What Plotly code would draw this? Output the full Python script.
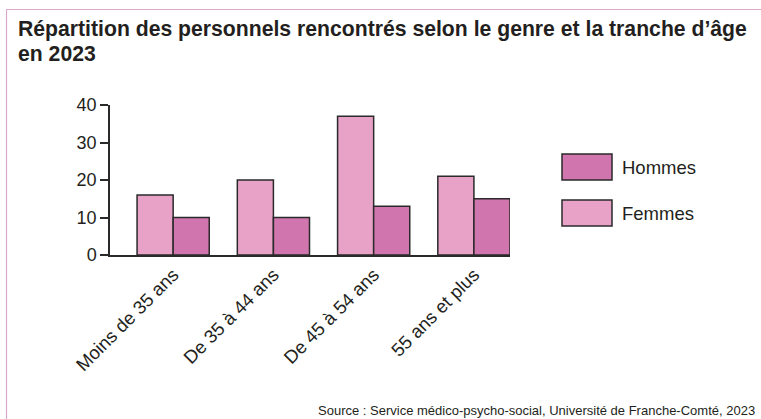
import plotly.graph_objects as go

# Age groups and headcounts by gender
categories = ["Moins de 35 ans", "De 35 à 44 ans", "De 45 à 54 ans", "55 ans et plus"]
femmes = [16, 20, 37, 21]
hommes = [10, 10, 13, 15]
y_ticks = [0, 10, 20, 30, 40]

W, H = 761, 419
L, R, T, B = 110, 251, 105, 164  # plot area: x 110..510, y 105..255
PW, PH = W - L - R, H - T - B

def px(x):
    return (x - L) / PW

def py(y):
    return (H - B - y) / PH

FEMMES_COLOR = "#E8A2C8"
HOMMES_COLOR = "#D075AE"
OUTLINE = "#2a2a2a"
TEXT = "#231f20"
FONT = "Liberation Sans, Arial, sans-serif"

series = [
    ("Femmes", femmes, FEMMES_COLOR),
    ("Hommes", hommes, HOMMES_COLOR),
]

fig = go.Figure()
for name, vals, color in series:
    fig.add_trace(go.Bar(
        x=categories, y=vals, name=name,
        marker=dict(color=color, line=dict(color=OUTLINE, width=1.5)),
        showlegend=False,
    ))

shapes = []
annotations = []

# Legend drawn as boxes with labels (Hommes above Femmes)
legend_items = [("Hommes", HOMMES_COLOR, 154), ("Femmes", FEMMES_COLOR, 200)]
for name, color, top in legend_items:
    shapes.append(dict(
        type="rect", xref="paper", yref="paper",
        x0=px(562), x1=px(612), y0=py(top + 26), y1=py(top),
        fillcolor=color, line=dict(color=OUTLINE, width=1.5),
    ))
    annotations.append(dict(
        text=name, xref="paper", yref="paper",
        x=px(620), y=py(top + 13), xanchor="left", yanchor="middle",
        showarrow=False, font=dict(family=FONT, size=18.5, color=TEXT),
    ))

# Frame lines (left and top)
frame_color = "#D9A8CF"
shapes.append(dict(type="line", xref="paper", yref="paper",
                   x0=px(6.5), x1=px(6.5), y0=py(9.5), y1=py(H + 2),
                   line=dict(color=frame_color, width=1.2)))
shapes.append(dict(type="line", xref="paper", yref="paper",
                   x0=px(6.5), x1=px(W + 2), y0=py(9.5), y1=py(9.5),
                   line=dict(color=frame_color, width=1.2)))

# Title, one annotation per line
title_lines = [
    ("Répartition des personnels rencontrés selon le genre et la tranche d’âge", 29),
    ("en 2023", 53),
]
for text, ymid in title_lines:
    annotations.append(dict(
        text=f"<b>{text}</b>",
        xref="paper", yref="paper", x=px(16), y=py(ymid),
        xanchor="left", yanchor="middle", align="left", showarrow=False,
        font=dict(family=FONT, size=21.2, color=TEXT),
    ))

# Source line
annotations.append(dict(
    text="Source : Service médico-psycho-social, Université de Franche-Comté, 2023",
    xref="paper", yref="paper", x=px(316), y=py(410),
    xanchor="left", yanchor="middle", showarrow=False,
    font=dict(family=FONT, size=13, color=TEXT),
))

fig.update_layout(
    width=W, height=H,
    margin=dict(l=L, r=R, t=T, b=B, pad=0),
    paper_bgcolor="white", plot_bgcolor="white",
    barmode="group", bargap=0.28, bargroupgap=0,
    font=dict(family=FONT, color=TEXT),
    shapes=shapes, annotations=annotations,
    showlegend=False,
)
fig.update_xaxes(
    type="category", range=[-0.63, 3.36],
    showline=True, linecolor=OUTLINE, linewidth=1.5,
    showgrid=False, ticks="", tickangle=-45,
    tickfont=dict(family=FONT, size=18.5, color=TEXT),
    fixedrange=True,
)
fig.update_yaxes(
    range=[0, 40], tickvals=y_ticks,
    showline=True, linecolor=OUTLINE, linewidth=1.5,
    showgrid=False, zeroline=False,
    ticks="outside", ticklen=8, tickcolor=OUTLINE, tickwidth=1.5,
    tickfont=dict(family=FONT, size=18, color=TEXT),
    fixedrange=True,
)

fig.write_html("out.html")
